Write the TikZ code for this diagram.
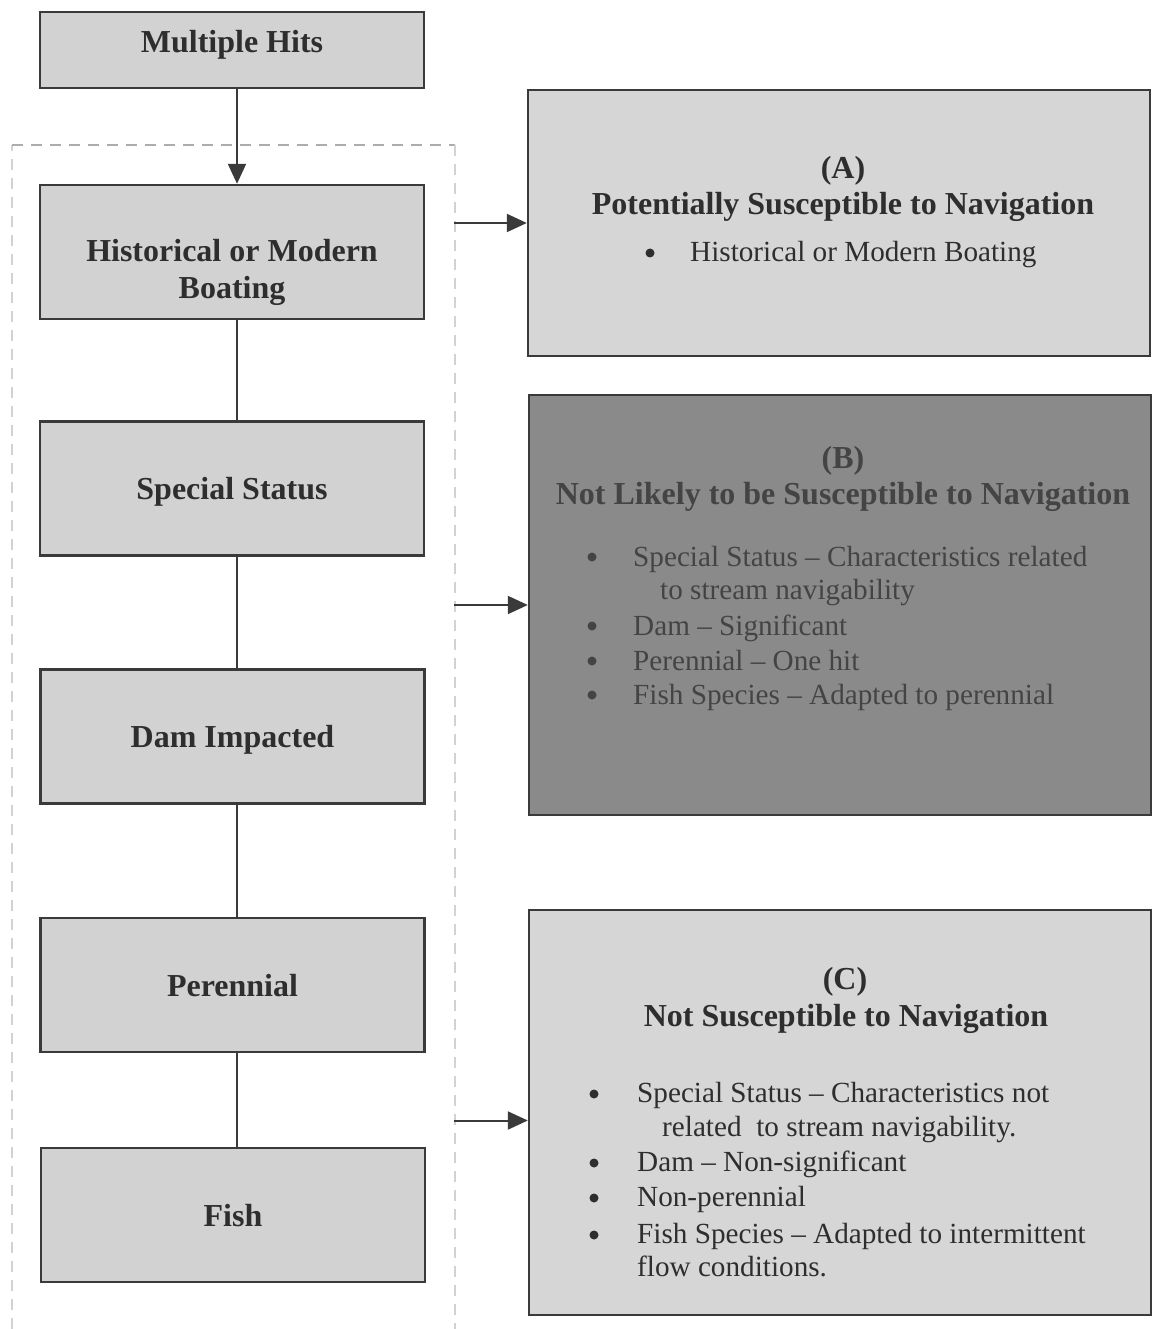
\documentclass[tikz,border=0pt]{standalone}
\usepackage{fontspec}
\setmainfont{Liberation Serif}
\usetikzlibrary{arrows.meta}
\definecolor{lbox}{HTML}{D2D2D2}
\definecolor{abox}{HTML}{D6D6D6}
\definecolor{bbox}{HTML}{8A8A8A}
\definecolor{edge}{HTML}{3A3A3A}
\definecolor{txt}{HTML}{2E2E2E}
\definecolor{btxt}{HTML}{444444}
\begin{document}
\begin{tikzpicture}[x=1pt,y=-1pt,
  leftbox/.style={draw=edge, line width=2.4pt, fill=lbox, minimum width=384pt, minimum height=134pt, inner sep=0pt},
  ltext/.style={font=\fontsize{32}{37}\selectfont\bfseries, text=txt, align=center, inner sep=0pt},
  rbox/.style={draw=edge, line width=2.4pt, minimum width=622pt, inner sep=0pt},
  head/.style={font=\fontsize{32}{37}\selectfont\bfseries, inner sep=0pt, anchor=center},
  item/.style={font=\fontsize{29.2}{33}\selectfont, inner sep=0pt, anchor=west, text height=0.68em, text depth=0.2em},
  bul/.style={circle, inner sep=0pt, minimum size=9pt},
  conn/.style={draw=edge, line width=2pt},
  arr/.style={draw=edge, line width=2pt, -{Triangle[length=20pt,width=18pt]}},
  frametop/.style={draw=gray!65, line width=1.3pt, dash pattern=on 11pt off 8pt},
  frameside/.style={draw=gray!35, line width=1.2pt, dash pattern=on 11pt off 8pt}]
\useasboundingbox (0,0) rectangle (1151,1329);
\fill[white] (0,0) rectangle (1151,1329);

% dashed frame
\draw[frameside] (12,1329) -- (12,145);
\draw[frametop] (12,145) -- (455,145);
\draw[frameside] (455,145) -- (455,1329);
\coordinate (fr) at (454,145);
\coordinate (spine) at (237,0);

% left column
\node[leftbox, minimum height=76pt] (hits) at (232,50) {};
\node[leftbox] (hist) at (232,252) {};
\node[leftbox] (spec) at (232,488.5) {};
\node[leftbox] (dam) at (232.5,736.5) {};
\node[leftbox] (per) at (232.5,985) {};
\node[leftbox] (fish) at (233,1215) {};

\node[ltext] (hitsT) at (232,44.5) {Multiple Hits};
\node[ltext] (histT) at (232,272) {Historical or Modern\\Boating};
\node[ltext] (specT) at (232,491.5) {Special Status};
\node[ltext] (damT) at (232.5,739.5) {Dam Impacted};
\node[ltext] (perT) at (232.5,985.5) {Perennial};
\node[ltext] (fishT) at (233,1215.5) {Fish};

\draw[arr] (hits.south -| spine) -- (hist.north -| spine);
\draw[conn] (hist.south -| spine) -- (spec.north -| spine);
\draw[conn] (spec.south -| spine) -- (dam.north -| spine);
\draw[conn] (dam.south -| spine) -- (per.north -| spine);
\draw[conn] (per.south -| spine) -- (fish.north -| spine);

% right boxes
\node[rbox, fill=abox, minimum height=266pt] (boxA) at (839,223) {};
\node[rbox, fill=bbox, minimum height=420pt] (boxB) at (840,605) {};
\node[rbox, fill=abox, minimum height=405pt] (boxC) at (840,1112.5) {};

\draw[arr] (fr |- boxA.west) -- (boxA.west);
\draw[arr] (fr |- boxB.west) -- (boxB.west);
\draw[arr] ([yshift=-8pt]boxC.west -| fr) -- ([yshift=-8pt]boxC.west);

% box A text
\node[head, text=txt] (aL) at (843,170.5) {(A)};
\node[head, text=txt] (aT) at (843,206.5) {Potentially Susceptible to Navigation};
\node[bul, fill=txt] (aB1) at (650,253) {};
\node[item, text=txt] (aI1) at (690,259) {Historical or Modern Boating};

% box B text
\node[head, text=btxt] (bL) at (843,460.5) {(B)};
\node[head, text=btxt] (bT) at (843,496.5) {Not Likely to be Susceptible to Navigation};
\node[bul, fill=btxt] (bB1) at (592,557) {};
\node[item, text=btxt] (bI1) at (633,564) {Special Status – Characteristics related};
\node[item, text=btxt] (bI1b) at (660,597) {to stream navigability};
\node[bul, fill=btxt] (bB2) at (592,626) {};
\node[item, text=btxt] (bI2) at (633,633) {Dam – Significant};
\node[bul, fill=btxt] (bB3) at (592,661) {};
\node[item, text=btxt] (bI3) at (633,668) {Perennial – One hit};
\node[bul, fill=btxt] (bB4) at (592,695) {};
\node[item, text=btxt] (bI4) at (633,702) {Fish Species – Adapted to perennial};

% box C text
\node[head, text=txt] (cL) at (845,981.5) {(C)};
\node[head, text=txt] (cT) at (846,1018.5) {Not Susceptible to Navigation};
\node[bul, fill=txt] (cB1) at (594,1094) {};
\node[item, text=txt] (cI1) at (637,1100) {Special Status – Characteristics not};
\node[item, text=txt] (cI1b) at (662,1134) {related\ \ to stream navigability.};
\node[bul, fill=txt] (cB2) at (594,1163) {};
\node[item, text=txt] (cI2) at (637,1169) {Dam – Non-significant};
\node[bul, fill=txt] (cB3) at (594,1198) {};
\node[item, text=txt] (cI3) at (637,1204) {Non-perennial};
\node[bul, fill=txt] (cB4) at (594,1235) {};
\node[item, text=txt] (cI4) at (637,1241) {Fish Species – Adapted to intermittent};
\node[item, text=txt] (cI4b) at (637,1274) {flow conditions.};
\end{tikzpicture}
\end{document}
